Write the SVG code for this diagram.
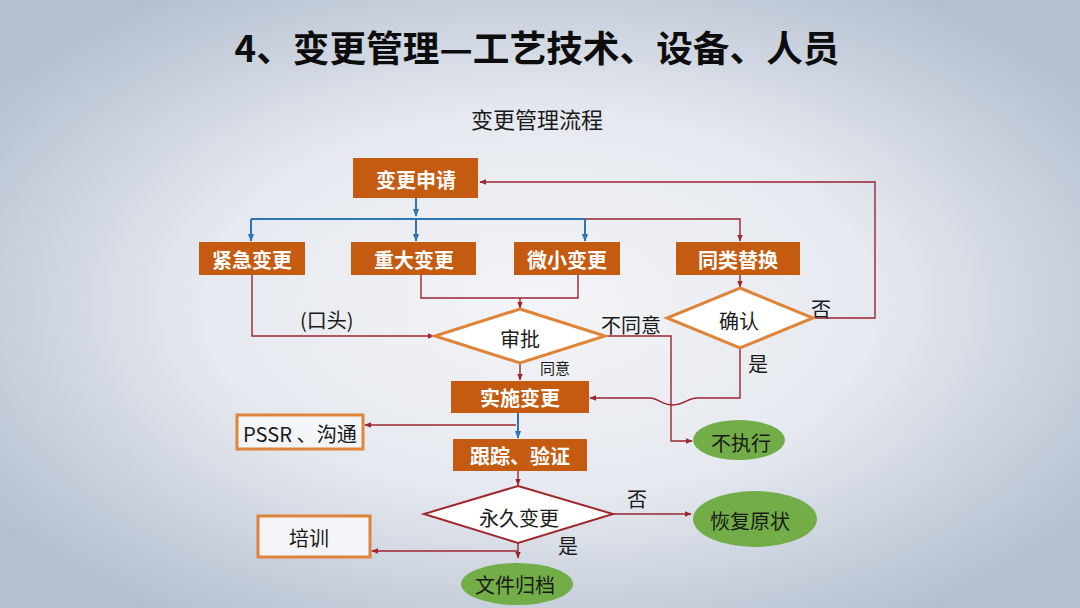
<svg xmlns="http://www.w3.org/2000/svg" width="1080" height="608" viewBox="0 0 1080 608">
<defs>
<radialGradient id="bg" cx="50%" cy="50%" r="62%">
<stop offset="0" stop-color="#f3f4f7"/>
<stop offset="0.5" stop-color="#e6e9ef"/>
<stop offset="1" stop-color="#b4bfd0"/>
</radialGradient>
<marker id="ar" viewBox="0 0 10 10" refX="9" refY="5" markerWidth="7" markerHeight="7" orient="auto" markerUnits="userSpaceOnUse"><path d="M0,1 L10,5 L0,9 Z" fill="#9b2630"/></marker>
<marker id="ab" viewBox="0 0 10 10" refX="9" refY="5" markerWidth="8" markerHeight="8" orient="auto" markerUnits="userSpaceOnUse"><path d="M0,1 L10,5 L0,9 Z" fill="#2e75b6"/></marker>
<style>
.t{font-family:"Noto Sans CJK SC","Noto Sans",sans-serif;}
.box{fill:#c55a11;}
.bt{fill:#ffffff;font-size:20px;font-weight:bold;text-anchor:middle;dominant-baseline:central;}
.dia{fill:#ffffff;stroke:#df8438;stroke-width:3;}
.dia2{fill:#ffffff;stroke:#a0282d;stroke-width:2;}
.ob{fill:#f4f5f8;stroke:#df8438;stroke-width:3;}
.el{fill:#72ad47;}
.nt{fill:#1a1a1a;font-size:20px;text-anchor:middle;dominant-baseline:central;}
.lb{fill:#1a1a1a;font-size:20px;dominant-baseline:central;}
.sm{font-size:15px;}
.r{fill:none;stroke:#9b2630;stroke-width:1.4;}
.b{fill:none;stroke:#2e75b6;stroke-width:2;}
</style>
</defs>
<rect width="1080" height="608" fill="url(#bg)"/>
<text class="t" x="537" y="62" font-size="36" font-weight="bold" text-anchor="middle" fill="#0d0d0d" textLength="605" lengthAdjust="spacingAndGlyphs">4、变更管理—工艺技术、设备、人员</text>
<text class="t" x="537" y="118" font-size="22" text-anchor="middle" dominant-baseline="central" fill="#1a1a1a">变更管理流程</text>

<g id="connectors">
<path class="b" d="M416,198 V216" marker-end="url(#ab)"/>
<path class="b" d="M251,219 H585"/>
<path class="b" d="M251,219 V241" marker-end="url(#ab)"/>
<path class="b" d="M416,219 V241" marker-end="url(#ab)"/>
<path class="b" d="M585,219 V241" marker-end="url(#ab)"/>
<path class="r" d="M585,219 H740 V241" marker-end="url(#ar)"/>
<path class="r" d="M740,275 V287" marker-end="url(#ar)"/>
<path class="r" d="M813,318 H875 V182 H480" marker-end="url(#ar)"/>
<path class="r" d="M740,348 V398 H697 C688,398 684,405 673,405 C662,405 658,398 650,398 H590" marker-end="url(#ar)"/>
<path class="r" d="M605,336 H671 V441 H692" marker-end="url(#ar)"/>
<path class="r" d="M252,275 V336 H434" marker-end="url(#ar)"/>
<path class="r" d="M421,275 V298 H578 V275"/>
<path class="r" d="M520,298 V308" marker-end="url(#ar)"/>
<path class="r" d="M520,363 V380" marker-end="url(#ar)"/>
<path class="b" d="M518,412 V438" marker-end="url(#ab)"/>
<path class="r" d="M516,425 H365" marker-end="url(#ar)"/>
<path class="r" d="M518,471 V485" marker-end="url(#ar)"/>
<path class="r" d="M613,514 H691" marker-end="url(#ar)"/>
<path class="r" d="M518,543 V558" marker-end="url(#ar)"/>
<path class="r" d="M518,551 H372" marker-end="url(#ar)"/>
<text class="t lb" x="300" y="319">(口头)</text>
<text class="t lb" x="601" y="324">不同意</text>
<text class="t lb" x="811" y="308">否</text>
<text class="t lb sm" x="540" y="367">同意</text>
<text class="t lb" x="748" y="363">是</text>
<text class="t lb" x="627" y="498">否</text>
<text class="t lb" x="558" y="545">是</text>
</g>

<g id="n-apply"><rect class="box" x="353" y="158" width="125" height="40"/><text class="t bt" x="416" y="179">变更申请</text></g>
<g id="n-urgent"><rect class="box" x="199" y="242" width="106" height="33"/><text class="t bt" x="252" y="259">紧急变更</text></g>
<g id="n-major"><rect class="box" x="351" y="242" width="125" height="33"/><text class="t bt" x="414" y="259">重大变更</text></g>
<g id="n-minor"><rect class="box" x="514" y="242" width="106" height="33"/><text class="t bt" x="567" y="259">微小变更</text></g>
<g id="n-same"><rect class="box" x="676" y="242" width="124" height="33"/><text class="t bt" x="738" y="259">同类替换</text></g>
<g id="n-approve"><polygon class="dia" points="520,309 605,336 520,363 435,336"/><text class="t nt" x="520" y="338">审批</text></g>
<g id="n-confirm"><polygon class="dia" points="740,288 813,318 740,348 667,318"/><text class="t nt" x="739" y="320">确认</text></g>
<g id="n-implement"><rect class="box" x="451" y="381" width="138" height="32"/><text class="t bt" x="520" y="397">实施变更</text></g>
<g id="n-pssr"><rect class="ob" x="237" y="415" width="126" height="34"/><text class="t lb" x="243" y="433" textLength="114" lengthAdjust="spacingAndGlyphs">PSSR 、沟通</text></g>
<g id="n-noexec"><ellipse class="el" cx="739" cy="440" rx="46" ry="20"/><text class="t nt" x="741" y="442">不执行</text></g>
<g id="n-track"><rect class="box" x="453" y="439" width="134" height="32"/><text class="t bt" x="520" y="455">跟踪、验证</text></g>
<g id="n-permanent"><polygon class="dia2" points="518,486 613,514 518,543 424,514"/><text class="t nt" x="519" y="517">永久变更</text></g>
<g id="n-restore"><ellipse class="el" cx="755" cy="519" rx="62" ry="28"/><text class="t nt" x="750" y="520">恢复原状</text></g>
<g id="n-train"><rect class="ob" x="258" y="516" width="112" height="41"/><text class="t nt" x="309" y="537">培训</text></g>
<g id="n-archive"><ellipse class="el" cx="517" cy="584" rx="56" ry="21"/><text class="t nt" x="515" y="584">文件归档</text></g>
</svg>
